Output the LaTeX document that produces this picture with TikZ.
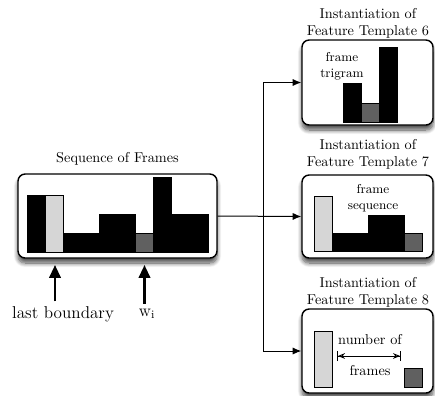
\documentclass[tikz,border=0pt]{standalone}
\usepackage{amsmath}
\usetikzlibrary{positioning,arrows.meta,shadows.blur}

\definecolor{lightbar}{HTML}{D6D6D6}
\definecolor{darkbar}{HTML}{606060}

\begin{document}
\begin{tikzpicture}[x=0.7pt,y=-0.7pt,
  frbox/.style={draw=black, line width=1pt, rounded corners=5pt, fill=white,
    blur shadow={shadow xshift=0pt, shadow yshift=-3.5pt, shadow blur radius=3pt,
      shadow blur steps=10, shadow opacity=70}},
  bar/.style={draw=black, line width=0.5pt},
  link/.style={line width=0.7pt, -{Latex[length=6pt,width=5pt]}},
  bigup/.style={line width=1.6pt, -{Triangle[length=9pt,width=8pt]}}]
\useasboundingbox (0,0) rectangle (435,395);

\def\bw{18.1}
\def\xa{27};
\def\base{252};

% boxes
\node[frbox, minimum width=199*0.7pt, minimum height=84*0.7pt] (seq) at (117.5,216) {};
\node[frbox, minimum width=131*0.7pt, minimum height=85*0.7pt] (tsix) at (367.5,82.5) {};
\node[frbox, minimum width=131*0.7pt, minimum height=83*0.7pt] (tseven) at (367.5,216.5) {};
\node[frbox, minimum width=131*0.7pt, minimum height=84*0.7pt] (teight) at (367.5,351) {};

% titles
\node at (117.5,159) {Sequence of Frames};
\node[align=center] at (368,23) {Instantiation of\\Feature Template 6};
\node[align=center] at (368,154) {Instantiation of\\Feature Template 7};
\node[align=center] at (368,292) {Instantiation of\\Feature Template 8};

% sequence of frames
\foreach \i/\t/\c in {0/195/black, 1/195/lightbar, 2/233/black, 3/233/black, 4/214/black,
                      5/214/black, 6/233/darkbar, 7/177/black, 8/214/black, 9/214/black}
  \filldraw[bar, fill=\c] (\xa+\i*\bw,\t) rectangle (\xa+\i*\bw+\bw,\base);

% template 6
\filldraw[bar, fill=black] (343,83) rectangle (361,122);
\filldraw[bar, fill=darkbar] (361,103) rectangle (379,122);
\filldraw[bar, fill=black] (379,47) rectangle (397,122);
\node[align=center, font=\small] at (342,66) {frame\\trigram};

% template 7
\foreach \i/\t/\c in {0/196/lightbar, 1/233/black, 2/233/black, 3/215/black, 4/215/black, 5/233/darkbar}
  \filldraw[bar, fill=\c] (314+\i*18,\t) rectangle (332+\i*18,251);
\node[align=center, font=\small] at (373,198) {frame\\sequence};

% template 8
\filldraw[bar, fill=lightbar] (314,331) rectangle (332,387);
\filldraw[bar, fill=darkbar] (404,368) rectangle (422,387);
\coordinate (nfa) at (337,356);
\coordinate (nfb) at (401,356);
\draw[line width=0.6pt, {Bar[width=7pt]Stealth[length=5pt,width=4pt,open]}-{Stealth[length=5pt,width=4pt,open]Bar[width=7pt]}] (nfa) -- (nfb);
\node (nof) at (370,340) {number of};
\node (nfr) at (370,371) {frames};

% links
\coordinate (split) at (263,216);
\draw[link] (seq.east) -- (tseven.west);
\draw[link] (split) |- (tsix.west);
\draw[link] (split) |- (teight.west);

% pointers
\node[font=\large] (lb) at (63,314) {last boundary};
\node[font=\large] (wi) at (147,314) {w\textsubscript{i}};
\coordinate (lbtip) at (55,265);
\coordinate (witip) at (144.5,265);
\draw[bigup] (lbtip |- lb.north) -- (lbtip);
\draw[bigup] (witip |- wi.north) -- (witip);
\end{tikzpicture}
\end{document}
